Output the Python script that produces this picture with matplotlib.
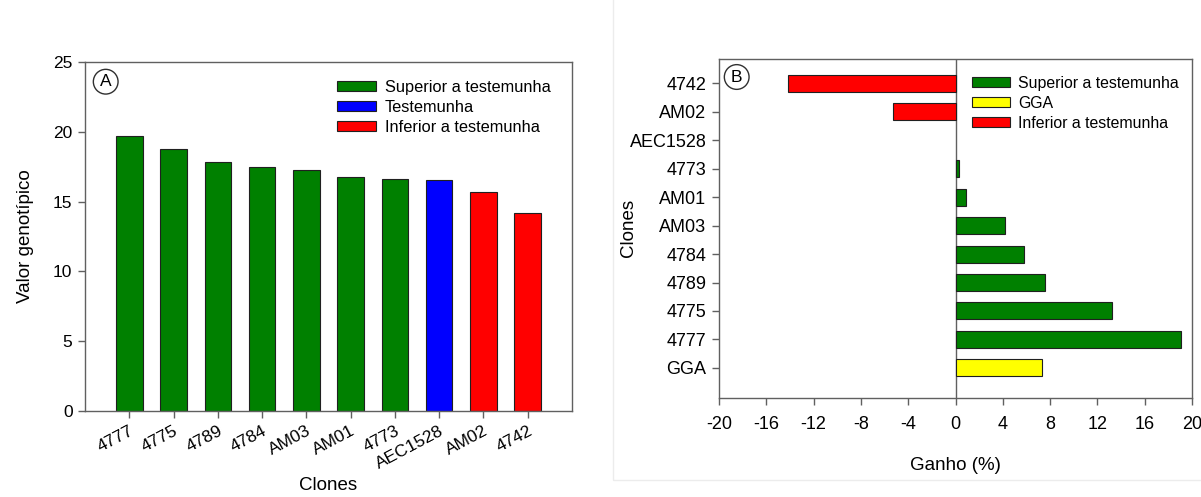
import numpy as np
import matplotlib
matplotlib.use('Agg')
import matplotlib.pyplot as plt
import matplotlib.patches as mpatches

plt.rcParams['font.family'] = ['Liberation Sans', 'DejaVu Sans']
plt.rcParams['axes.unicode_minus'] = False

# panel A: genotypic values
clones_a = ['4777', '4775', '4789', '4784', 'AM03', 'AM01', '4773', 'AEC1528', 'AM02', '4742']
valor = [19.7, 18.75, 17.82, 17.5, 17.25, 16.75, 16.63, 16.55, 15.66, 14.2]
grupo_a = ['sup', 'sup', 'sup', 'sup', 'sup', 'sup', 'sup', 'test', 'inf', 'inf']

# panel B: gain (%), bottom to top
clones_b = ['GGA', '4777', '4775', '4789', '4784', 'AM03', 'AM01', '4773', 'AEC1528', 'AM02', '4742']
ganho = [7.3, 19.05, 13.2, 7.6, 5.8, 4.2, 0.9, 0.3, 0.0, -5.3, -14.2]
grupo_b = ['gga', 'sup', 'sup', 'sup', 'sup', 'sup', 'sup', 'sup', 'test', 'inf', 'inf']

cores = {'sup': '#008000', 'test': '#0000FF', 'inf': '#FF0000', 'gga': '#FFFF00'}
spine_col = '#606060'
W, H = 1201, 497

fig = plt.figure(figsize=(12.01, 4.97), dpi=100)

# faint frame around panel B
fig.patches.append(mpatches.Rectangle((613 / W, 1 - 480 / H), 0.6, 1.0,
                                      transform=fig.transFigure, fill=False,
                                      edgecolor='#ececec', lw=1))

def style(ax):
    for s in ax.spines.values():
        s.set_color(spine_col)
        s.set_linewidth(1.0)
    ax.tick_params(direction='out', length=5, width=1, color=spine_col, pad=4)

def circ(label, px, py):
    fig.text(px / W, 1 - py / H, label, ha='center', va='center', fontsize=12.5,
             bbox=dict(boxstyle='circle,pad=0.28', fc='white', ec='#303030', lw=1))

def legenda(ax, handles, labels, px, py, fs):
    ax.legend(handles, labels, loc='upper left', bbox_to_anchor=(px / W, 1 - py / H),
              bbox_transform=fig.transFigure, frameon=False, fontsize=fs,
              handlelength=2.4, handleheight=0.6, labelspacing=0.3, handletextpad=0.5,
              borderaxespad=0, borderpad=0)

# ---- panel A
ax1 = fig.add_axes([85 / W, 1 - 411 / H, (572 - 85) / W, (411 - 62) / H])
x = np.arange(len(clones_a))
ax1.bar(x, valor, width=0.6, color=[cores[g] for g in grupo_a], edgecolor='#202020', linewidth=0.8, zorder=2)
ax1.set_xlim(-1.0, 10.0)
ax1.set_ylim(0, 25)
ax1.set_yticks([0, 5, 10, 15, 20, 25])
ax1.set_xticks(x)
ax1.set_xticklabels(clones_a, rotation=28, ha='right', rotation_mode='anchor', fontsize=12.5)
ax1.tick_params(axis='y', labelsize=12.5)
ax1.set_ylabel('Valor genotípico', fontsize=13.5)
ax1.yaxis.set_label_coords((34 - 85) / (572 - 85), 0.5)
ax1.set_xlabel('Clones', fontsize=13.5)
ax1.xaxis.set_label_coords(0.5, -(477 - 411) / (411 - 62))
style(ax1)
circ('A', 105.7, 81.7)
h1 = [mpatches.Patch(facecolor=cores[k], edgecolor='#202020', lw=0.8) for k in ['sup', 'test', 'inf']]
legenda(ax1, h1, ['Superior a testemunha', 'Testemunha', 'Inferior a testemunha'], 337, 80, 11.8)

# ---- panel B
ax2 = fig.add_axes([719 / W, 1 - 397.7 / H, (1192 - 719) / W, (397.7 - 58.7) / H])
y = np.arange(len(clones_b))
ecs = ['none' if g == 'test' else '#202020' for g in grupo_b]
ax2.barh(y, ganho, height=0.6, color=[cores[g] for g in grupo_b], edgecolor=ecs, linewidth=0.8, zorder=2)
ax2.axvline(0, color=spine_col, lw=1, zorder=1)
ax2.set_xlim(-20, 20)
ax2.set_ylim(-1.05, 10.87)
ax2.set_xticks(np.arange(-20, 21, 4))
ax2.set_yticks(y)
ax2.set_yticklabels(clones_b)
style(ax2)
ax2.tick_params(labelsize=13)
ax2.tick_params(axis='x', pad=8)
ax2.set_xlabel('Ganho (%)', fontsize=13.5)
ax2.xaxis.set_label_coords(0.5, -(457 - 397.7) / (397.7 - 58.7))
ax2.set_ylabel('Clones', fontsize=13.5)
ax2.yaxis.set_label_coords((637 - 719) / (1192 - 719), 0.5)
circ('B', 736.7, 77)
h2 = [mpatches.Patch(facecolor=cores[k], edgecolor='#202020', lw=0.8) for k in ['sup', 'gga', 'inf']]
legenda(ax2, h2, ['Superior a testemunha', 'GGA', 'Inferior a testemunha'], 972, 76, 11.4)

fig.savefig('out.png', dpi=100)
